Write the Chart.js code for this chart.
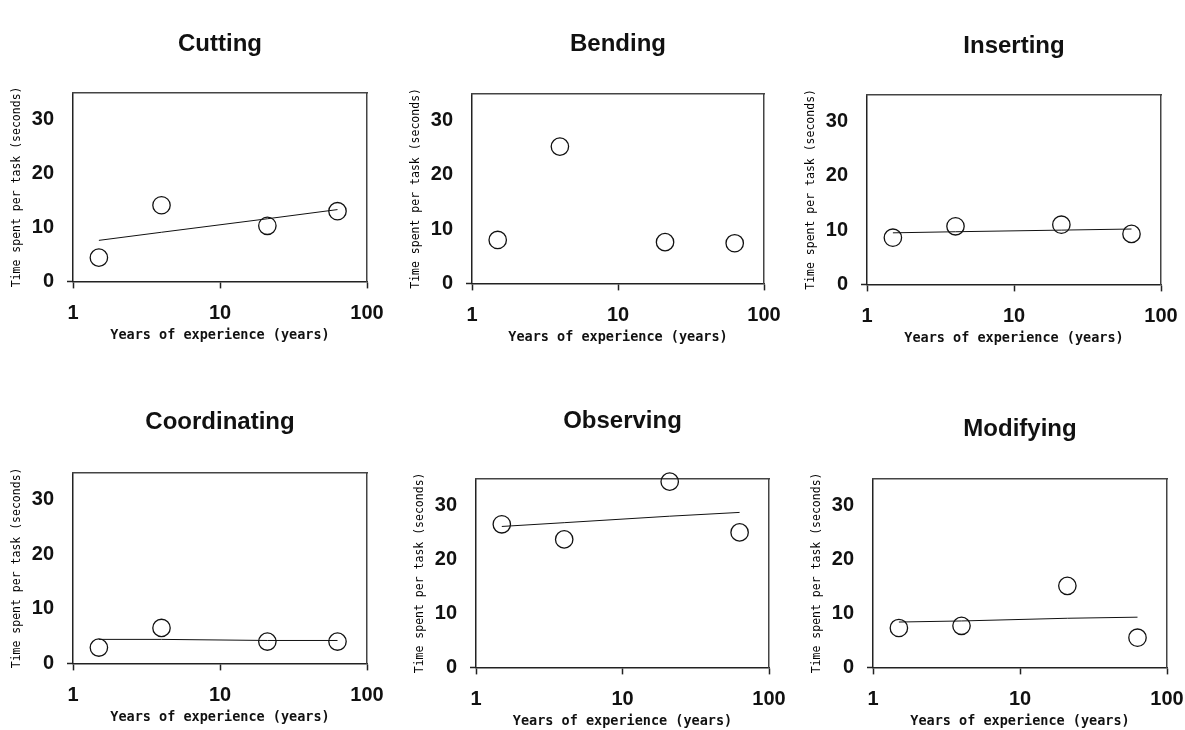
<!DOCTYPE html>
<html>
<head>
<meta charset="utf-8">
<script src="https://cdn.jsdelivr.net/npm/chart.js@4.4.1/dist/chart.umd.min.js"></script>
<style>
  html, body { margin: 0; padding: 0; background: #fff; }
  body { width: 1185px; height: 730px; position: relative; overflow: hidden; }
  .panel { position: absolute; }
</style>
</head>
<body>
<script>
// ---- Data ----
const years = [1.5, 4, 21, 63];
const xTickValues = [1, 10, 100];
const yTickValues = [0, 10, 20, 30];
const taskNames = ["Cutting", "Bending", "Inserting", "Coordinating", "Observing", "Modifying"];

const cutting       = [4.4, 14.1, 10.3, 13.0];
const cuttingTrend  = [7.6, 9.1, 11.6, 13.3];
const bending       = [8.0, 25.2, 7.6, 7.4];
const bendingTrend  = null;
const inserting     = [8.6, 10.7, 11.0, 9.3];
const insertingTrend = [9.5, 9.7, 10.0, 10.2];
const coordinating  = [2.9, 6.5, 4.0, 4.0];
const coordinatingTrend = [4.4, 4.4, 4.2, 4.2];
const observing     = [26.5, 23.7, 34.4, 25.0];
const observingTrend = [26.1, 26.8, 28.0, 28.7];
const modifying     = [7.3, 7.7, 15.1, 5.5];
const modifyingTrend = [8.4, 8.6, 9.1, 9.3];

const xTitle = "Years of experience (years)";
const yTitle = "Time spent per task (seconds)";

// ---- Layout (plot area edges and title centre, in page pixels) ----
const panels = [
  { name: taskNames[0], values: cutting,      trend: cuttingTrend,      L: 73,  R: 367,  T: 92,  B: 281, tc: 44 },
  { name: taskNames[1], values: bending,      trend: bendingTrend,      L: 472, R: 764,  T: 93,  B: 283, tc: 44 },
  { name: taskNames[2], values: inserting,    trend: insertingTrend,    L: 867, R: 1161, T: 94,  B: 284, tc: 46 },
  { name: taskNames[3], values: coordinating, trend: coordinatingTrend, L: 73,  R: 367,  T: 472, B: 663, tc: 422 },
  { name: taskNames[4], values: observing,    trend: observingTrend,    L: 476, R: 769,  T: 478, B: 667, tc: 421 },
  { name: taskNames[5], values: modifying,    trend: modifyingTrend,    L: 873, R: 1167, T: 478, B: 667, tc: 429 }
];

const SIDE = 73;        // width of y-axis block (and mirrored right block)
const XAXIS_H = 70;     // height of x-axis block
const TITLE_SIZE = 24;
const TITLE_LH = TITLE_SIZE * 1.2;
const TITLE_PAD_TOP = 6;

const tickFont = { family: "'Liberation Sans', Arial, sans-serif", weight: "bold", size: 20 };
const xTitleFont = { family: "'DejaVu Sans Mono', monospace", weight: "bold", size: 13.5 };
const yTitleFont = { family: "'DejaVu Sans Mono', monospace", weight: "normal", size: 11.5 };

Chart.defaults.animation = false;

panels.forEach((p) => {
  const top = p.tc - TITLE_PAD_TOP - TITLE_LH / 2;
  const left = p.L - SIDE;
  const width = (p.R - p.L) + 2 * SIDE;
  const height = (p.B - top) + XAXIS_H;
  const titlePadBottom = p.T - top - TITLE_PAD_TOP - TITLE_LH;

  const div = document.createElement("div");
  div.className = "panel";
  div.style.left = left + "px";
  div.style.top = top + "px";
  div.style.width = width + "px";
  div.style.height = height + "px";
  const canvas = document.createElement("canvas");
  div.appendChild(canvas);
  document.body.appendChild(div);

  const datasets = [];
  if (p.trend) {
    datasets.push({
      type: "line",
      label: p.name + " trend",
      data: years.map((x, i) => ({ x: x, y: p.trend[i] })),
      borderColor: "#111",
      borderWidth: 1,
      pointRadius: 0,
      fill: false,
      tension: 0,
      clip: false,
      order: 1
    });
  }
  datasets.push({
    type: "scatter",
    label: p.name,
    data: years.map((x, i) => ({ x: x, y: p.values[i] })),
    pointStyle: "circle",
    pointRadius: 8.7,
    pointBorderWidth: 1.3,
    pointBorderColor: "#111",
    pointBackgroundColor: "rgba(255,255,255,0)",
    showLine: false,
    clip: false,
    order: 2
  });

  new Chart(canvas, {
    type: "scatter",
    data: { datasets: datasets },
    options: {
      responsive: true,
      maintainAspectRatio: false,
      animation: false,
      layout: { padding: 0 },
      plugins: {
        legend: { display: false },
        tooltip: { enabled: false },
        title: {
          display: true,
          text: p.name,
          color: "#111",
          font: { family: "'Liberation Sans', Arial, sans-serif", weight: "bold", size: TITLE_SIZE, lineHeight: 1.2 },
          padding: { top: TITLE_PAD_TOP, bottom: titlePadBottom }
        }
      },
      scales: {
        x: {
          type: "logarithmic",
          position: "bottom",
          min: 1,
          max: 100,
          afterBuildTicks: (s) => { s.ticks = xTickValues.map(v => ({ value: v })); },
          afterFit: (s) => { s.height = XAXIS_H; },
          ticks: {
            font: tickFont,
            color: "#111",
            padding: 13,
            maxRotation: 0,
            autoSkip: false,
            callback: (v) => String(v)
          },
          grid: { display: true, drawOnChartArea: false, drawTicks: true, tickLength: 7, tickColor: "#222", tickWidth: 1.5 },
          border: { display: true, color: "#222", width: 1.5 },
          title: {
            display: true,
            text: xTitle,
            color: "#111",
            font: Object.assign({ lineHeight: 1.2 }, xTitleFont),
            padding: { top: 0, bottom: 8 }
          }
        },
        y: {
          type: "linear",
          position: "left",
          min: 0,
          max: 35,
          afterBuildTicks: (s) => { s.ticks = yTickValues.map(v => ({ value: v })); },
          afterFit: (s) => { s.width = SIDE; },
          ticks: {
            font: tickFont,
            color: "#111",
            padding: 13
          },
          grid: {
            display: true,
            drawOnChartArea: false,
            drawTicks: true,
            tickLength: 6,
            tickWidth: 1.5,
            tickColor: (ctx) => (ctx.tick && ctx.tick.value === 0 ? "#222" : "rgba(0,0,0,0)")
          },
          border: { display: true, color: "#222", width: 1.5 },
          title: {
            display: true,
            text: yTitle,
            color: "#000",
            font: Object.assign({ lineHeight: 1.2 }, yTitleFont),
            padding: { top: 10, bottom: 0 }
          }
        },
        x2: {
          type: "logarithmic",
          position: "top",
          min: 1,
          max: 100,
          display: true,
          afterFit: (s) => { s.height = 0; },
          ticks: { display: false },
          grid: { display: false },
          border: { display: true, color: "#444", width: 1.5 }
        },
        y2: {
          type: "linear",
          position: "right",
          min: 0,
          max: 35,
          display: true,
          afterFit: (s) => { s.width = SIDE; },
          ticks: { display: false },
          grid: { display: false },
          border: { display: true, color: "#444", width: 1.5 }
        }
      }
    }
  });
});
</script>
</body>
</html>
